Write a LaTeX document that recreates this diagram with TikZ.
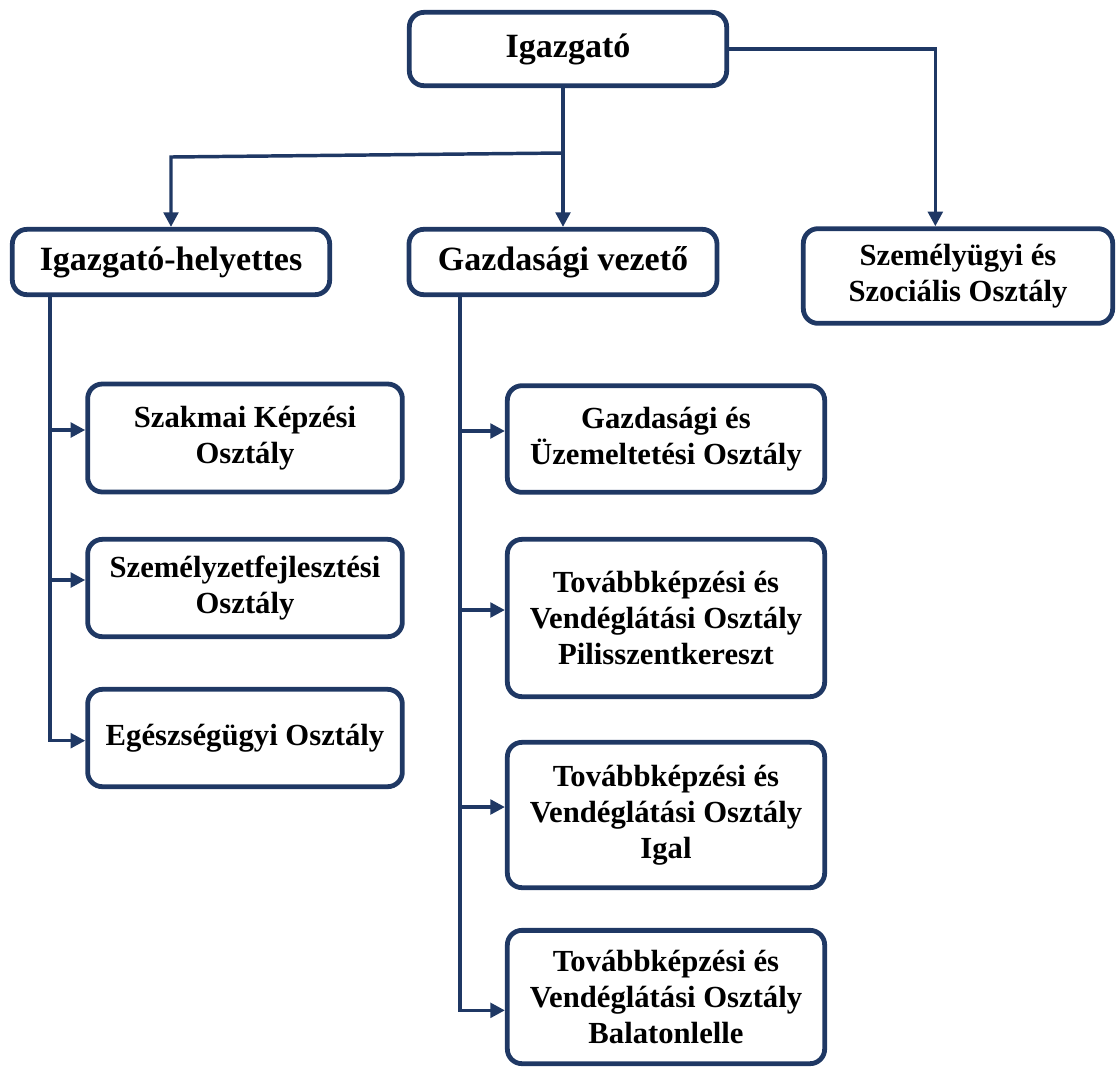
\documentclass[tikz,border=0pt]{standalone}
\usepackage{fontspec}
\setmainfont{Liberation Serif}
\usetikzlibrary{arrows.meta}
\definecolor{navy}{RGB}{31,56,100}

\begin{document}
\begin{tikzpicture}[
	x=0.75pt, y=-0.75pt,
	unit/.style={ draw=navy, line width=3.6pt, rounded corners=11pt, align=center, inner sep=2pt, font=\bfseries\fontsize{23}{27}\selectfont, minimum width=236pt },
	head/.style={ unit, font=\bfseries\fontsize{25.5}{30}\selectfont },
	link/.style={ navy, line width=2.6pt },
	arrow/.style={ link, -{Triangle[length=11pt,width=11pt]} }
]
\useasboundingbox (0,0) rectangle (1117,1072);

\node at (568,49) (igazgato) [head,minimum width=238pt,minimum height=55pt] {Igazgató};
\node at (171,262) (helyettes) [head,minimum width=238pt,minimum height=49pt] {Igazgató-helyettes};
\node at (563,262) (gazdvez) [head,minimum width=231pt,minimum height=49pt] {Gazdasági vezető};
\node at (958,276) (szemugy) [unit,minimum width=232pt,minimum height=71pt] {Személyügyi és\\Szociális Osztály};

\node at (245,438) (szakmai) [unit,minimum height=81pt] {Szakmai Képzési\\Osztály};
\node at (245,588) (szemfejl) [unit,minimum height=73pt] {Személyzetfejlesztési\\Osztály};
\node at (245,738) (egeszseg) [unit,minimum height=73pt] {Egészségügyi Osztály};

\node at (666,439) (gazduzem) [unit,minimum width=238pt,minimum height=80pt] {Gazdasági és\\Üzemeltetési Osztály};
\node at (666,618) (pilis) [unit,minimum width=238pt,minimum height=118pt] {Továbbképzési és\\Vendéglátási Osztály\\Pilisszentkereszt};
\node at (666,815) (igal) [unit,minimum width=238pt,minimum height=109pt] {Továbbképzési és\\Vendéglátási Osztály\\Igal};
\node at (666,997) (balaton) [unit,minimum width=238pt,minimum height=100pt] {Továbbképzési és\\Vendéglátási Osztály\\Balatonlelle};

% from the director
\coordinate (split) at (563,153);
\draw[arrow] (gazdvez.north |- igazgato.south) -- (gazdvez.north);
\draw[arrow] (split) -- (helyettes.north |- 0,157) -- (helyettes.north);
\draw[arrow] (igazgato.east) -| ([xshift=-17pt]szemugy.north);

% deputy branch
\coordinate (hbot) at (50,297);
\draw[arrow] (hbot) |- ([yshift=-2pt]egeszseg.west);
\foreach \p in {szakmai,szemfejl} \draw[arrow] ([yshift=6pt]hbot |- \p.west) to ([yshift=6pt]\p.west);

% economic branch
\coordinate (gbot) at (460,297);
\draw[arrow] (gbot) |- ([yshift=-10pt]balaton.west);
\foreach \p in {gazduzem,pilis,igal} \draw[arrow] ([yshift=6pt]gbot |- \p.west) to ([yshift=6pt]\p.west);

\end{tikzpicture}
\end{document}
